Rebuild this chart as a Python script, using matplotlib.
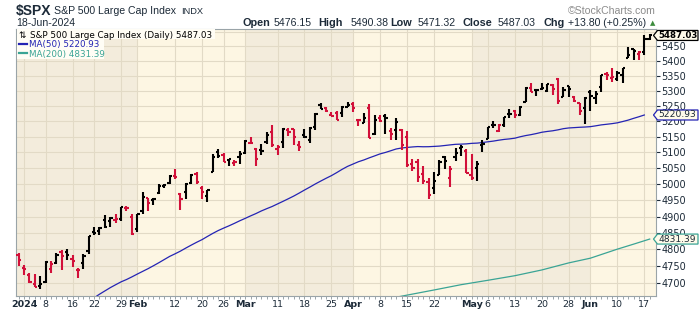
import matplotlib
matplotlib.use("Agg")
import matplotlib.pyplot as plt
from matplotlib.lines import Line2D
from matplotlib.patches import Polygon, Rectangle
from matplotlib.ticker import FixedLocator, NullLocator

# trading days shown (Dec 29 2023 is the first, partly visible bar)
TRADING_DAYS = {
    "2023-12": [29],
    "2024-01": [2, 3, 4, 5, 8, 9, 10, 11, 12, 16, 17, 18, 19, 22, 23, 24, 25, 26, 29, 30, 31],
    "2024-02": [1, 2, 5, 6, 7, 8, 9, 12, 13, 14, 15, 16, 20, 21, 22, 23, 26, 27, 28, 29],
    "2024-03": [1, 4, 5, 6, 7, 8, 11, 12, 13, 14, 15, 18, 19, 20, 21, 22, 25, 26, 27, 28],
    "2024-04": [1, 2, 3, 4, 5, 8, 9, 10, 11, 12, 15, 16, 17, 18, 19, 22, 23, 24, 25, 26, 29, 30],
    "2024-05": [1, 2, 3, 6, 7, 8, 9, 10, 13, 14, 15, 16, 17, 20, 21, 22, 23, 24, 28, 29, 30, 31],
    "2024-06": [3, 4, 5, 6, 7, 10, 11, 12, 13, 14, 17, 18],
}
DATES = [f"{m}-{d:02d}" for m, days in TRADING_DAYS.items() for d in days]
PREV_CLOSE = 4783.35  # Dec 28 2023, decides colour of first bar

OPEN = [4782.88, 4745.20, 4725.07, 4697.42, 4690.57, 4703.70, 4741.93, 4759.94, 4792.13, 4791.18,
        4772.35, 4739.13, 4760.10, 4796.28, 4853.42, 4856.80, 4888.56, 4886.66, 4888.91, 4892.95,
        4925.89, 4899.19, 4861.11, 4916.06, 4957.19, 4950.16, 4973.05, 4995.16, 5004.17, 5026.83,
        4967.94, 4976.44, 5003.14, 5031.13, 4989.32, 4963.03, 5038.83, 5100.92, 5093.00, 5074.60,
        5067.20, 5085.36, 5098.51, 5130.99, 5110.52, 5108.03, 5132.38, 5164.46, 5111.96, 5134.30,
        5173.49, 5175.14, 5123.31, 5154.77, 5139.09, 5181.69, 5253.43, 5242.48, 5219.52, 5228.85,
        5226.31, 5248.03, 5257.97, 5204.29, 5194.37, 5244.05, 5158.95, 5211.37, 5217.03, 5167.88,
        5172.95, 5171.51, 5149.67, 5064.59, 5068.97, 5031.52, 5005.44, 4987.33, 5028.85, 5084.86,
        5019.88, 5084.65, 5114.13, 5103.78, 5029.03, 5049.32, 5122.78, 5142.42, 5187.20, 5168.98,
        5189.03, 5225.49, 5233.08, 5221.10, 5263.26, 5310.07, 5303.10, 5305.35, 5298.69, 5319.28,
        5340.26, 5281.45, 5315.91, 5278.73, 5259.77, 5243.21, 5297.15, 5278.24, 5314.48, 5357.80,
        5343.81, 5341.22, 5353.00, 5409.13, 5441.93, 5424.08, 5431.11, 5476.15]
HIGH = [4788.43, 4754.33, 4729.29, 4726.78, 4721.49, 4764.54, 4765.47, 4790.80, 4798.50, 4802.40,
        4782.34, 4744.23, 4785.79, 4842.07, 4868.41, 4866.48, 4903.68, 4898.15, 4906.69, 4929.31,
        4931.09, 4906.75, 4906.97, 4975.29, 4957.19, 4957.77, 4999.89, 5000.40, 5030.06, 5048.39,
        4971.35, 5002.52, 5032.72, 5038.70, 4993.71, 4983.21, 5094.39, 5111.06, 5097.66, 5080.69,
        5077.37, 5104.99, 5140.33, 5149.67, 5114.54, 5127.97, 5165.62, 5189.26, 5124.66, 5179.87,
        5179.14, 5176.85, 5136.86, 5175.60, 5180.31, 5226.19, 5261.10, 5246.09, 5229.09, 5235.16,
        5249.26, 5264.85, 5263.95, 5208.34, 5228.75, 5256.59, 5222.18, 5219.57, 5224.81, 5178.43,
        5211.78, 5175.03, 5168.43, 5079.84, 5077.96, 5056.66, 5019.02, 5038.84, 5076.12, 5089.48,
        5057.75, 5114.62, 5123.49, 5110.83, 5096.12, 5073.21, 5139.12, 5181.00, 5200.23, 5191.95,
        5214.42, 5239.66, 5237.26, 5250.37, 5311.76, 5325.49, 5305.45, 5325.32, 5324.32, 5323.18,
        5341.88, 5311.65, 5315.91, 5282.27, 5260.21, 5280.33, 5302.11, 5298.80, 5354.16, 5362.35,
        5375.08, 5365.79, 5375.95, 5447.25, 5441.93, 5432.39, 5488.50, 5490.38]
LOW = [4751.99, 4722.67, 4699.71, 4687.53, 4682.11, 4699.82, 4730.35, 4756.20, 4739.58, 4768.98,
       4747.12, 4714.82, 4740.57, 4785.87, 4844.05, 4844.37, 4865.94, 4869.34, 4881.47, 4887.40,
       4916.27, 4845.15, 4853.52, 4907.99, 4918.09, 4934.88, 4969.05, 4987.09, 5000.34, 5016.83,
       4920.31, 4955.02, 4999.44, 4999.52, 4955.02, 4946.00, 5038.83, 5081.46, 5068.91, 5057.29,
       5058.35, 5061.89, 5094.16, 5127.18, 5056.82, 5092.22, 5128.21, 5117.50, 5091.14, 5114.48,
       5151.88, 5123.30, 5104.35, 5145.47, 5131.59, 5171.55, 5240.66, 5229.87, 5216.09, 5203.42,
       5213.92, 5245.82, 5229.20, 5184.05, 5194.37, 5146.06, 5157.21, 5197.35, 5160.78, 5138.70,
       5138.77, 5107.94, 5052.47, 5039.83, 5007.25, 5001.89, 4953.56, 4969.40, 5027.96, 5047.02,
       4990.58, 5073.14, 5088.65, 5035.31, 5013.45, 5011.05, 5101.22, 5142.42, 5178.96, 5165.86,
       5182.62, 5209.68, 5211.16, 5217.98, 5263.26, 5296.19, 5283.59, 5302.40, 5297.87, 5286.01,
       5256.93, 5278.39, 5280.89, 5262.70, 5222.10, 5191.68, 5234.32, 5257.63, 5297.64, 5335.36,
       5331.33, 5331.52, 5327.25, 5409.13, 5402.51, 5403.75, 5420.40, 5471.32]
CLOSE = [4769.83, 4742.83, 4704.81, 4688.68, 4697.24, 4763.54, 4756.50, 4783.45, 4780.24, 4783.83,
         4765.98, 4739.21, 4780.94, 4839.81, 4850.43, 4864.60, 4868.55, 4894.16, 4890.97, 4927.93,
         4924.97, 4845.65, 4906.19, 4958.61, 4942.81, 4954.23, 4995.06, 4997.91, 5026.61, 5021.84,
         4953.17, 5000.62, 5029.73, 5005.57, 4975.51, 4981.80, 5087.03, 5088.80, 5069.53, 5078.18,
         5069.76, 5096.27, 5137.08, 5130.95, 5078.65, 5104.76, 5157.36, 5123.69, 5117.94, 5175.27,
         5165.31, 5150.48, 5117.09, 5149.42, 5178.51, 5224.62, 5241.53, 5234.18, 5218.19, 5203.58,
         5248.49, 5254.35, 5243.77, 5205.81, 5211.49, 5147.21, 5204.34, 5202.39, 5209.91, 5160.64,
         5199.06, 5123.41, 5061.82, 5051.41, 5022.21, 5011.12, 4967.23, 5010.60, 5070.55, 5071.63,
         5048.42, 5099.96, 5116.17, 5035.69, 5018.39, 5064.20, 5127.79, 5180.74, 5187.70, 5187.67,
         5214.08, 5222.68, 5221.42, 5246.68, 5308.15, 5297.10, 5303.27, 5308.13, 5321.41, 5307.01,
         5267.84, 5304.72, 5306.04, 5266.95, 5235.48, 5277.51, 5283.40, 5291.34, 5354.03, 5352.96,
         5346.99, 5360.79, 5375.32, 5421.03, 5433.74, 5431.60, 5473.23, 5487.03]

# MA(50), daily from Jan 18 to Jun 18
MA50_START = "2024-01-18"
MA50 = [4638.2, 4647.6, 4657.3, 4667.7, 4677.3, 4686.9, 4695.5, 4703.9, 4710.7, 4718.5,
        4726.8, 4734.8, 4742.8, 4751.5, 4760.5, 4769.9, 4779.3, 4787.0, 4795.1, 4804.3,
        4813.1, 4821.6, 4829.6, 4839.2, 4848.5, 4857.1, 4864.5, 4871.5, 4879.0, 4886.9,
        4894.2, 4901.8, 4909.0, 4917.0, 4924.0, 4930.7, 4938.6, 4946.5, 4954.6, 4962.9,
        4972.1, 4981.7, 4990.9, 5000.6, 5009.6, 5018.4, 5026.8, 5036.5, 5046.8, 5056.0,
        5063.3, 5070.6, 5076.2, 5082.9, 5089.1, 5095.5, 5100.1, 5105.6, 5111.2, 5114.3,
        5116.1, 5117.7, 5118.9, 5118.3, 5118.5, 5119.4, 5120.4, 5122.3, 5124.3, 5126.1,
        5126.7, 5127.5, 5129.2, 5130.0, 5131.8, 5134.2, 5136.4, 5139.3, 5141.8, 5143.5,
        5145.8, 5150.4, 5154.2, 5157.2, 5160.8, 5164.9, 5167.5, 5169.6, 5172.7, 5176.5,
        5178.8, 5179.9, 5181.0, 5181.8, 5183.0, 5185.7, 5188.7, 5190.7, 5192.8, 5195.4,
        5199.7, 5204.2, 5209.9, 5215.2, 5220.93]

# MA(200)
MA200_DATES = ["2024-04-10", "2024-04-15", "2024-04-22", "2024-04-29", "2024-05-06", "2024-05-13",
               "2024-05-20", "2024-05-28", "2024-06-03", "2024-06-10", "2024-06-13", "2024-06-18"]
MA200 = [4656, 4665, 4680, 4695.5, 4708.5, 4722, 4739, 4760, 4774, 4801, 4816, 4831.39]

TICK_DATES = ["2024-01-02", "2024-01-08", "2024-01-16", "2024-01-22", "2024-01-29", "2024-02-01",
              "2024-02-12", "2024-02-20", "2024-02-26", "2024-03-01", "2024-03-11", "2024-03-18",
              "2024-03-25", "2024-04-01", "2024-04-08", "2024-04-15", "2024-04-22", "2024-05-01",
              "2024-05-06", "2024-05-13", "2024-05-20", "2024-05-28", "2024-06-03", "2024-06-10",
              "2024-06-17"]
TICK_LABELS = ["2024", "8", "16", "22", "29", "Feb", "12", "20", "26", "Mar", "11", "18", "25",
               "Apr", "8", "15", "22", "May", "6", "13", "20", "28", "Jun", "10", "17"]
PRICE_TICKS = list(range(4700, 5501, 50))

W, H = 700, 312
DARK_BAND = "#f3ecdc"
LIGHT_BAND = "#fdf6e3"
GRID = "#e2dac6"
TXT = "#1c2a38"
UP, DOWN = "#000000", "#d2103a"
MA50_C, MA200_C = "#2424b4", "#3aa495"


def fx(px):
    return px / W


def fy(py):
    return 1 - py / H


pos = {d: i for i, d in enumerate(DATES)}
xs = list(range(len(DATES)))

fig = plt.figure(figsize=(W / 100, H / 100), dpi=100)
ax = fig.add_axes([fx(16), 16 / H, 640 / W, 267 / H])
ax.set_yscale("log")
ax.set_xlim(-0.48, 118.17)
ax.set_ylim(4662.5, 5509.2)

# month bands
edges = [-0.48] + [i for i in xs[1:] if DATES[i][:7] != DATES[i - 1][:7] and DATES[i][:7] != "2024-01"] + [118.17]
for k in range(len(edges) - 1):
    ax.axvspan(edges[k], edges[k + 1], color=DARK_BAND if k % 2 == 0 else LIGHT_BAND, lw=0, zorder=0)

ax.set_axisbelow(True)
ax.grid(True, color=GRID, lw=0.8)

# OHLC bars
prev = [PREV_CLOSE] + CLOSE[:-1]
colors = [DOWN if c < p else UP for c, p in zip(CLOSE, prev)]
tick = 0.42
ax.vlines(xs, LOW, HIGH, colors=colors, lw=1.5, zorder=3)
ax.hlines(OPEN, [x - tick for x in xs], xs, colors=colors, lw=1.5, zorder=3)
ax.hlines(CLOSE, xs, [x + tick for x in xs], colors=colors, lw=1.5, zorder=3)

# moving averages
s = pos[MA50_START]
ax.plot(range(s, s + len(MA50)), MA50, color=MA50_C, lw=0.9, zorder=2)
ax.plot([pos[d] for d in MA200_DATES], MA200, color=MA200_C, lw=0.9, zorder=2)

# axes
for side in ["left", "right", "top", "bottom"]:
    ax.spines[side].set_color("#9aa4a8")
    ax.spines[side].set_linewidth(0.8)

ax.yaxis.tick_right()
ax.yaxis.set_major_locator(FixedLocator(PRICE_TICKS))
ax.yaxis.set_minor_locator(NullLocator())
ax.set_yticklabels([str(v) if v < 5500 else "" for v in PRICE_TICKS])
ax.tick_params(axis="y", length=3, width=0.8, color=TXT, pad=1, labelsize=7, labelcolor=TXT)

ax.set_xticks([pos[d] for d in TICK_DATES])
ax.set_xticklabels(TICK_LABELS)
ax.set_xticks(xs, minor=True)
ax.tick_params(axis="x", which="both", length=2, width=0.7, color="#9aa4a8", pad=1,
               labelsize=6.8, labelcolor=TXT)
for lab in ax.get_xticklabels():
    if not lab.get_text().isdigit() or lab.get_text() == "2024":
        lab.set_fontweight("bold")

# header
hdr = dict(family="Liberation Sans", color=TXT, va="baseline")
fig.text(fx(16), fy(15.3), "$SPX", fontsize=10, fontweight="bold", **hdr)
fig.text(fx(53.5), fy(14.5), "S&P 500 Large Cap Index", fontsize=7.6, **hdr)
fig.text(fx(181.5), fy(14.5), "INDX", fontsize=6.7, **hdr)
fig.text(fx(16), fy(26), "18-Jun-2024", fontsize=7.6, **hdr)
fig.text(fx(656), fy(14), "\u00a9StockCharts.com", fontsize=7.6, ha="right",
         family="Liberation Sans", color="#8c8c8c", va="baseline")
parts = [(242.3, "Open", True), (274, "5476.15", False), (318.3, "High", True),
         (350.5, "5490.38", False), (390.7, "Low", True), (417.7, "5471.32", False),
         (462.7, "Close", True), (497.7, "5487.03", False), (543.3, "Chg", True),
         (567.7, "+13.80 (+0.25%)", False)]
for x, t, b in parts:
    fig.text(fx(x), fy(26), t, fontsize=7.8 if b else 7.6,
             fontweight="bold" if b else "normal", **hdr)
fig.text(fx(653), fy(23), "\u25b2", fontsize=5, color="#3c8c3c", ha="center", va="center")

# legend block
fig.add_artist(Rectangle((fx(16.5), fy(39)), fx(198), 10 / H, transform=fig.transFigure,
                         facecolor="#fffdf5", edgecolor="none", zorder=4))
fig.add_artist(Rectangle((fx(16.5), fy(58.5)), fx(87), 19.5 / H, transform=fig.transFigure,
                         facecolor="#fffdf5", edgecolor="none", zorder=4))
leg = dict(family="DejaVu Sans", fontsize=6.3, va="baseline", zorder=5)
fig.text(fx(18.5), fy(37.5), "\u21c5", color="#000000", **leg)
fig.text(fx(30), fy(37.5), "S&P 500 Large Cap Index (Daily) 5487.03", color="#000000", **leg)
fig.add_artist(Line2D([fx(19), fx(27)], [fy(43.8)] * 2, color=MA50_C, lw=1.6, zorder=5))
fig.text(fx(29), fy(47), "MA(50) 5220.93", color=MA50_C, **leg)
fig.add_artist(Line2D([fx(19), fx(27)], [fy(53.4)] * 2, color=MA200_C, lw=1.6, zorder=5))
fig.text(fx(29), fy(56.6), "MA(200) 4831.39", color=MA200_C, **leg)


# value tags on the right axis
def value_tag(value, text, edge, bold=False):
    y = ax.transData.transform((0, value))[1]
    x0 = ax.transAxes.transform((1, 0))[0]
    h = 5.0
    pts = [(x0 - 2.5, y), (x0 + 1.5, y + h), (x0 + 42, y + h), (x0 + 42, y - h), (x0 + 1.5, y - h)]
    fig.add_artist(Polygon([(px / W, py / H) for px, py in pts], closed=True,
                           transform=fig.transFigure, facecolor="#fffbea",
                           edgecolor=edge, lw=0.9, zorder=6))
    fig.text((x0 + 2.5) / W, y / H, text, fontsize=6.2 if bold else 6.6,
             color="#000000" if bold else TXT,
             fontweight="bold" if bold else "normal", va="center", ha="left", zorder=7)


value_tag(CLOSE[-1], "5487.03", "#000000", bold=True)
value_tag(MA50[-1], "5220.93", MA50_C)
value_tag(MA200[-1], "4831.39", MA200_C)

fig.savefig("out.png", dpi=100, facecolor="white")
